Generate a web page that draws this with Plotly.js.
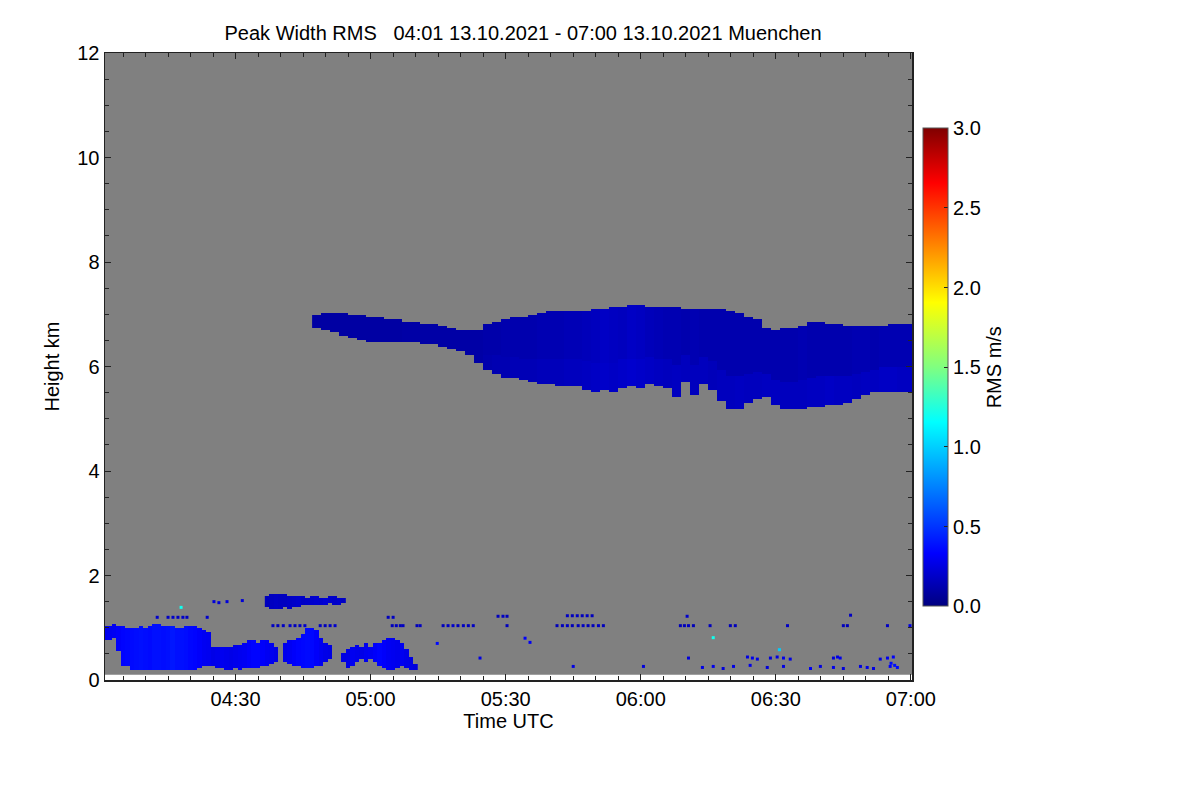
<!DOCTYPE html>
<html>
<head>
<meta charset="utf-8">
<script src="https://cdn.plot.ly/plotly-3.0.1.min.js"></script>
<style>
  html, body { margin: 0; padding: 0; background: #fff; }
  #chart { width: 1200px; height: 800px; }
</style>
</head>
<body>
<div id="chart"></div>
<script>
// minutes after 04:00 UTC, heights in km, values in m/s

// upper cloud layer, 2-minute columns
const mainMin = [48,50,52,54,56,58,60,62,64,66,68,70,72,74,76,78,80,82,84,86,88,90,92,94,96,98,100,102,104,106,108,110,112,114,116,118,120,122,124,126,128,130,132,134,136,138,140,142,144,146,148,150,152,154,156,158,160,162,164,166,168,170,172,174,176,178,180];
const mainTop = [6.96,7.00,7.00,7.00,6.99,6.97,6.95,6.93,6.90,6.88,6.86,6.84,6.83,6.82,6.76,6.72,6.69,6.68,6.68,6.80,6.86,6.89,6.92,6.95,6.97,7.01,7.05,7.06,7.05,7.05,7.07,7.08,7.10,7.12,7.14,7.16,7.16,7.15,7.15,7.14,7.12,7.10,7.10,7.10,7.10,7.08,7.05,7.02,6.95,6.90,6.72,6.70,6.72,6.74,6.78,6.84,6.86,6.82,6.80,6.78,6.76,6.77,6.78,6.78,6.80,6.82,6.83];
const mainBase = [6.76,6.70,6.66,6.60,6.55,6.52,6.47,6.45,6.47,6.45,6.46,6.45,6.44,6.41,6.38,6.35,6.29,6.24,6.08,5.93,5.86,5.80,5.77,5.73,5.71,5.68,5.65,5.64,5.63,5.62,5.55,5.50,5.53,5.52,5.60,5.62,5.58,5.66,5.62,5.60,5.42,5.72,5.45,5.68,5.55,5.35,5.18,5.20,5.30,5.38,5.42,5.25,5.18,5.17,5.20,5.22,5.23,5.26,5.28,5.30,5.38,5.45,5.50,5.52,5.52,5.52,5.52];
const mainValUp = [0.09,0.09,0.09,0.09,0.09,0.09,0.09,0.09,0.09,0.09,0.10,0.10,0.10,0.10,0.10,0.10,0.10,0.10,0.10,
  0.11,0.11,0.12,0.12,0.12,0.12,0.13,0.13,0.13,0.14,0.14,0.15,
  0.16,0.18,0.17,0.16,0.18,0.17,0.15,0.14,
  0.13,0.13,0.12,0.13,0.12,0.12,0.12,0.12,0.12,0.12,0.12,0.12,0.12,0.12,0.12,0.13,0.12,0.12,0.12,0.12,0.12,0.13,0.13,0.12,0.13,0.13,0.13,0.13];
const mainValLow = [0.09,0.09,0.09,0.09,0.09,0.09,0.09,0.09,0.09,0.09,0.10,0.10,0.10,0.10,0.10,0.10,0.10,0.10,0.10,
  0.12,0.13,0.13,0.14,0.14,0.14,0.15,0.15,0.15,0.16,0.16,0.17,
  0.18,0.19,0.18,0.19,0.20,0.19,0.18,0.17,
  0.16,0.17,0.16,0.16,0.16,0.15,0.16,0.16,0.17,0.16,0.16,0.17,0.17,0.16,0.16,0.16,0.17,0.17,0.18,0.17,0.17,0.16,0.17,0.17,0.18,0.18,0.17,0.17];

// boundary-layer clouds, 1-minute columns
const lowMin = [1,2,3,4,5,6,7,8,9,10,11,12,13,14,15,16,17,18,19,20,21,22,23,24,25,26,27,28,29,30,31,32,33,34,35,36,37,38,39,40,41,42,43,44,45,46,47,48,49,50,51,52,53,54,55,56,57,58,59,60,61,62,63,64,65,66,67,68,69,70];
const lowTop = [1.05,1.05,1.06,1.04,1.02,1.00,0.98,1.00,1.02,1.00,1.04,1.08,1.08,1.05,1.05,1.02,1.00,1.00,1.04,1.05,1.02,1.00,0.95,0.90,0.62,0.64,0.62,0.64,0.64,0.66,0.68,0.72,0.74,0.74,0.72,0.75,0.76,0.72,0.62,null,0.72,0.74,0.76,0.80,0.88,0.98,1.00,0.95,0.80,0.72,0.66,null,null,0.52,0.60,0.62,0.66,0.62,0.72,0.64,0.70,0.72,0.76,0.80,0.80,0.76,0.72,0.60,0.45,0.30];
const lowBase = [0.78,0.78,0.80,0.55,0.30,0.27,0.22,0.22,0.22,0.22,0.22,0.22,0.20,0.20,0.22,0.22,0.20,0.22,0.22,0.22,0.22,0.25,0.28,0.30,0.30,0.26,0.24,0.22,0.22,0.24,0.22,0.24,0.24,0.26,0.26,0.28,0.30,0.32,0.38,null,0.35,0.32,0.30,0.28,0.26,0.24,0.26,0.28,0.30,0.36,0.40,null,null,0.35,0.26,0.30,0.38,0.42,0.38,0.40,0.36,0.30,0.26,0.22,0.22,0.26,0.30,0.25,0.22,0.20];
const lowVal = [0.28,0.29,0.30,0.32,0.34,0.35,0.36,0.37,0.38,0.37,0.36,0.38,0.38,0.37,0.38,0.40,0.38,0.38,0.37,0.35,0.34,0.32,0.30,0.29,0.27,0.28,0.29,0.28,0.27,0.28,0.29,0.30,0.32,0.34,0.34,0.32,0.30,0.29,0.27,null,0.28,0.30,0.32,0.34,0.35,0.36,0.35,0.32,0.29,0.27,0.26,null,null,0.26,0.27,0.29,0.28,0.27,0.29,0.30,0.32,0.34,0.32,0.30,0.29,0.28,0.29,0.27,0.26,0.24];

// elevated layer near 1.5 km
const elevMin = [37,38,39,40,41,42,43,44,45,46,47,48,49,50,51,52,53,54];
const elevTop = [1.60,1.62,1.62,1.62,1.62,1.60,1.60,1.58,1.58,1.56,1.58,1.58,1.56,1.56,1.58,1.58,1.56,1.54];
const elevBase = [1.40,1.38,1.36,1.38,1.40,1.38,1.42,1.40,1.45,1.44,1.45,1.45,1.46,1.46,1.48,1.46,1.46,1.48];
const elevVal = [0.16,0.17,0.18,0.17,0.17,0.18,0.19,0.20,0.18,0.19,0.20,0.21,0.20,0.22,0.20,0.19,0.20,0.18];

// isolated returns
const speckMin = [38.3,39.4,40.6,42.1,43.2,44.3,45.4,48.8,49.9,51,52.1,64.8,65.7,66.6,67.2,70.3,71,76.1,77.2,78.3,79.4,80.6,81.7,82.8,90.3,101.4,102.6,103.7,104.8,106.1,107.2,108.3,109.4,110.6,111.7,128.8,129.7,130.6,131.7,135.4,139.9,141,152.6,165,165.9,174.8,179.8,
  12.6,15,16.1,17.2,18.3,19.2,23.7,63.9,65,88.3,89.4,90.3,103.7,104.8,105.9,107,108.1,109.2,130.3,166.6,
  105,120.6,133.7,136.1,138.3,140.6,144.3,148.1,151.7,157.7,159.9,162.8,165,168.8,170.3,171.7,175.4,177,
  84.3,130.6,143.7,144.8,145.9,148.8,150.3,151.7,153.2,162.8,163.7,164.3,173.2,174.8,176.1,175.6,176.4,
  74.8,94.3,95.4,25.2,26.3,28.1,31.5,136.1,150.8,17.9];
const speckKm = [1.04,1.04,1.04,1.04,1.04,1.04,1.04,1.04,1.04,1.04,1.04,1.04,1.04,1.04,1.04,1.04,1.04,1.04,1.04,1.04,1.04,1.04,1.04,1.04,1.04,1.04,1.04,1.04,1.04,1.04,1.04,1.04,1.04,1.04,1.04,1.04,1.04,1.04,1.04,1.04,1.04,1.04,1.04,1.04,1.04,1.04,1.04,
  1.20,1.20,1.20,1.20,1.20,1.20,1.20,1.20,1.20,1.22,1.22,1.22,1.23,1.23,1.23,1.23,1.23,1.23,1.22,1.24,
  0.26,0.26,0.24,0.26,0.22,0.26,0.28,0.24,0.26,0.22,0.26,0.24,0.22,0.26,0.24,0.22,0.26,0.24,
  0.42,0.42,0.44,0.42,0.40,0.42,0.44,0.42,0.40,0.42,0.44,0.42,0.40,0.42,0.44,0.32,0.28,
  0.70,0.80,0.72,1.50,1.48,1.50,1.52,0.81,0.58,1.39];
const speckVal = [0.18,0.16,0.18,0.20,0.16,0.18,0.20,0.18,0.16,0.18,0.20,0.16,0.18,0.16,0.18,0.16,0.18,0.16,0.18,0.20,0.16,0.18,0.16,0.18,0.16,0.15,0.16,0.18,0.15,0.16,0.18,0.15,0.16,0.18,0.16,0.15,0.16,0.18,0.15,0.16,0.15,0.16,0.18,0.16,0.15,0.18,0.26,
  0.20,0.18,0.20,0.18,0.20,0.18,0.20,0.16,0.18,0.16,0.18,0.16,0.18,0.16,0.18,0.16,0.18,0.16,0.20,0.18,
  0.26,0.24,0.26,0.28,0.24,0.26,0.28,0.24,0.26,0.30,0.26,0.28,0.24,0.26,0.28,0.26,0.32,0.36,
  0.26,0.24,0.26,0.28,0.26,0.24,0.26,0.28,0.26,0.24,0.26,0.28,0.26,0.30,0.32,0.36,0.38,
  0.36,0.32,0.30,0.24,0.22,0.24,0.22,1.20,1.00,1.20];

const cbTicks = [0, 0.5, 1.0, 1.5, 2.0, 2.5, 3.0];

const FONT = "Liberation Sans, Arial, Helvetica, sans-serif";
const FS = 20;
const T = m => Date.UTC(2021, 9, 13, 4, 0) + m * 60000;

function rows(lo, hi, step) {
  const out = [];
  for (let y = lo; y <= hi + 1e-9; y += step) out.push(+y.toFixed(3));
  return out;
}

// fill every cell lying between base and top of its column
function layerGrid(mins, tops, bases, valAt, ys) {
  const z = ys.map(y => mins.map((m, i) => {
    if (tops[i] == null || bases[i] == null) return null;
    return y <= tops[i] && y >= bases[i] ? valAt(i, y) : null;
  }));
  return { x: mins.map(T), y: ys, z };
}

const mainG = layerGrid(mainMin, mainTop, mainBase,
  (i, y) => y >= mainBase[i] + 0.35 * (mainTop[i] - mainBase[i]) ? mainValUp[i] : mainValLow[i],
  rows(5.0, 7.3, 0.04));
const lowG = layerGrid(lowMin, lowTop, lowBase, i => lowVal[i], rows(0.1, 1.2, 0.04));
const elevG = layerGrid(elevMin, elevTop, elevBase, i => elevVal[i], rows(1.3, 1.7, 0.04));

const hm = g => ({
  type: "heatmap", x: g.x, y: g.y, z: g.z, coloraxis: "coloraxis",
  zsmooth: false, hoverongaps: false, hoverinfo: "skip"
});

const traces = [
  hm(mainG), hm(lowG), hm(elevG),
  {
    type: "scatter", mode: "markers", x: speckMin.map(T), y: speckKm, hoverinfo: "skip",
    marker: { symbol: "square", size: 3, color: speckVal, coloraxis: "coloraxis", line: { width: 0 } },
    showlegend: false
  }
];

const jet = [
  [0, "rgb(0,0,128)"], [0.11, "rgb(0,0,255)"], [0.385, "rgb(0,255,255)"],
  [0.5, "rgb(128,255,128)"], [0.635, "rgb(255,255,0)"], [0.885, "rgb(255,0,0)"], [1, "rgb(128,0,0)"]
];

const axisCommon = {
  showgrid: false, zeroline: false, showline: true, linecolor: "#222", linewidth: 1.5,
  mirror: "allticks", ticks: "inside", ticklen: 6, tickwidth: 1, tickcolor: "#222",
  tickfont: { family: FONT, size: FS, color: "#000" }
};

const layout = {
  width: 1200, height: 800,
  margin: { l: 105, r: 288, t: 53, b: 120 },
  paper_bgcolor: "#fff", plot_bgcolor: "#fff",
  font: { family: FONT, color: "#000", size: FS },
  showlegend: false,
  title: {
    text: "Peak Width RMS\u00a0\u00a0\u00a004:01 13.10.2021 - 07:00 13.10.2021 Muenchen",
    font: { family: FONT, size: FS, color: "#000" },
    xref: "paper", x: 0.518, xanchor: "center",
    yref: "container", y: 0.959, yanchor: "middle"
  },
  xaxis: {
    ...axisCommon, type: "date", range: [T(1), T(180.25)],
    tick0: T(0), dtick: 30 * 60000, tickformat: "%H:%M",
    minor: { dtick: 5 * 60000, ticks: "inside", ticklen: 4, tickcolor: "#222" },
    title: { text: "Time UTC", font: { family: FONT, size: FS }, standoff: 3 }
  },
  yaxis: {
    ...axisCommon, range: [0, 12], tick0: 0, dtick: 2,
    minor: { dtick: 0.5, ticks: "inside", ticklen: 4, tickcolor: "#222" },
    title: { text: "Height km", font: { family: FONT, size: FS }, standoff: 12 }
  },
  coloraxis: {
    cmin: 0, cmax: 3, colorscale: jet,
    colorbar: {
      x: 1.0133, xanchor: "left", xpad: 0, ypad: 0,
      y: 0.880, yanchor: "top", lenmode: "pixels", len: 478, thickness: 25,
      outlinewidth: 1, outlinecolor: "#555",
      tickvals: cbTicks, tickformat: ".1f", ticks: "inside", ticklen: 4, tickcolor: "#222",
      tickfont: { family: FONT, size: FS, color: "#000" },
      title: { text: "RMS m/s", side: "right", font: { family: FONT, size: FS } }
    }
  },
  shapes: [{
    type: "rect", layer: "below", xref: "x", yref: "y",
    x0: T(1), x1: T(180.25), y0: 0.1, y1: 12,
    fillcolor: "#808080", line: { width: 0 }
  }]
};

Plotly.newPlot("chart", traces, layout, { displayModeBar: false, staticPlot: true });
</script>
</body>
</html>
